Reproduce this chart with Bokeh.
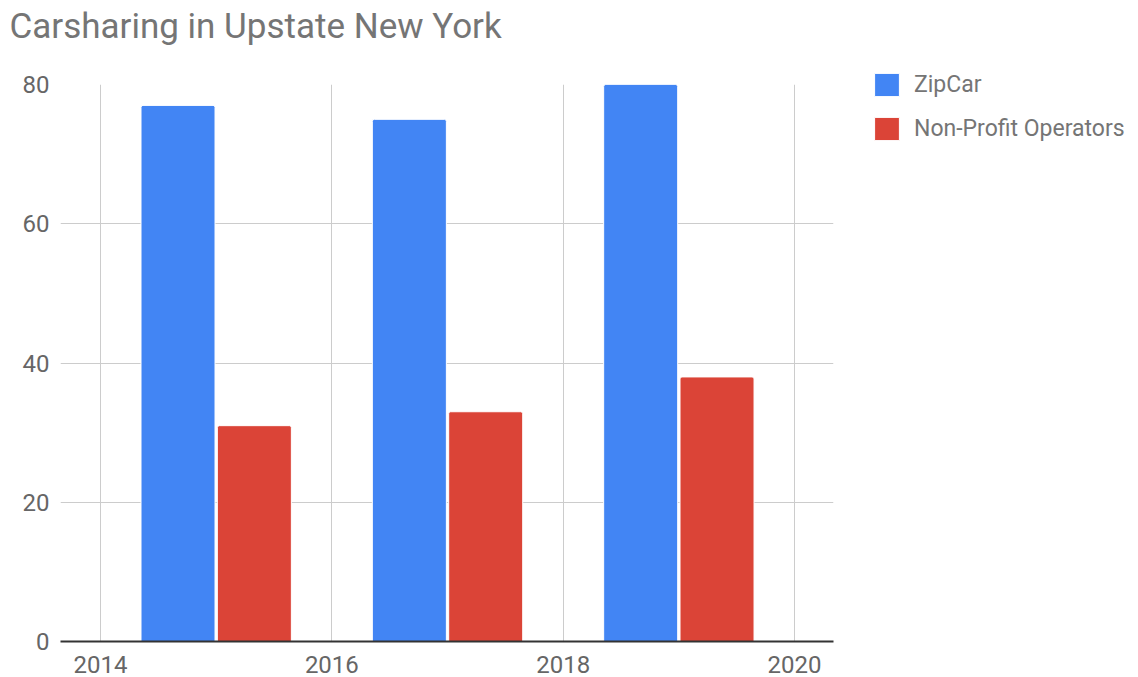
from bokeh.plotting import figure
from bokeh.models import Range1d, FixedTicker, Legend, LegendItem, ColumnDataSource
from bokeh.transform import dodge
from bokeh.embed import file_html
from bokeh.resources import INLINE

years = [2015, 2017, 2019]
zipcar = [77, 75, 80]
nonprofit = [31, 33, 38]
series_names = ["ZipCar", "Non-Profit Operators"]
x_ticks = [2014, 2016, 2018, 2020]
y_ticks = [0, 20, 40, 60, 80]

src = ColumnDataSource(dict(year=years, zipcar=zipcar, nonprofit=nonprofit))

p = figure(frame_width=773, frame_height=557, output_backend="svg", toolbar_location=None,
           x_range=Range1d(2013.654, 2020.337), y_range=Range1d(0, 80),
           min_border_left=60, min_border_right=297, min_border_bottom=36, min_border_top=84)
p.outline_line_color = None
p.background_fill_color = "white"
p.border_fill_color = "white"

p.title.text = "Carsharing in Upstate New York"
p.title.text_font = "Roboto"
p.title.text_font_size = "35px"
p.title.text_font_style = "normal"
p.title.text_color = "#757575"
p.title.align = "left"
p.title.vertical_align = "top"
p.title.offset = -51
p.title.standoff = 0
p.title.padding = {"left": 0, "right": 0, "top": 4, "bottom": 36}

r1 = p.vbar(x=dodge("year", -0.33, range=p.x_range), top="zipcar", width=0.64, source=src,
            fill_color="#4285F4", line_color="white", line_width=1, border_radius=(2, 2, 0, 0))
r2 = p.vbar(x=dodge("year", 0.33, range=p.x_range), top="nonprofit", width=0.64, source=src,
            fill_color="#DB4437", line_color="white", line_width=1, border_radius=(2, 2, 0, 0))

for ax in (p.xaxis[0], p.yaxis[0]):
    ax.major_tick_line_color = None
    ax.minor_tick_line_color = None
    ax.major_label_text_font = "Roboto"
    ax.major_label_text_font_size = "24px"
    ax.major_label_text_color = "#666666"
p.xaxis.ticker = FixedTicker(ticks=x_ticks)
p.yaxis.ticker = FixedTicker(ticks=y_ticks)
p.xaxis.axis_line_color = "#333333"
p.xaxis.axis_line_width = 2
p.xaxis.major_label_standoff = 8
p.yaxis.axis_line_color = None
p.yaxis.major_label_standoff = 5

p.xgrid.ticker = FixedTicker(ticks=x_ticks)
p.ygrid.ticker = FixedTicker(ticks=y_ticks)
p.xgrid.grid_line_color = "#cccccc"
p.ygrid.grid_line_color = "#cccccc"

legend = Legend(items=[LegendItem(label=series_names[0], renderers=[r1]),
                       LegendItem(label=series_names[1], renderers=[r2])],
                location=(38, 498), orientation="vertical")
legend.padding = 0
legend.margin = 0
legend.border_line_color = None
legend.background_fill_alpha = 0
legend.glyph_width = 31
legend.glyph_height = 29
legend.label_height = 23
legend.spacing = 15
legend.label_standoff = 12
legend.label_text_font = "Roboto"
legend.label_text_font_size = "23px"
legend.label_text_color = "#757575"
legend.label_text_baseline = "middle"
p.add_layout(legend, "right")

open("out.html", "w").write(file_html(p, INLINE))
